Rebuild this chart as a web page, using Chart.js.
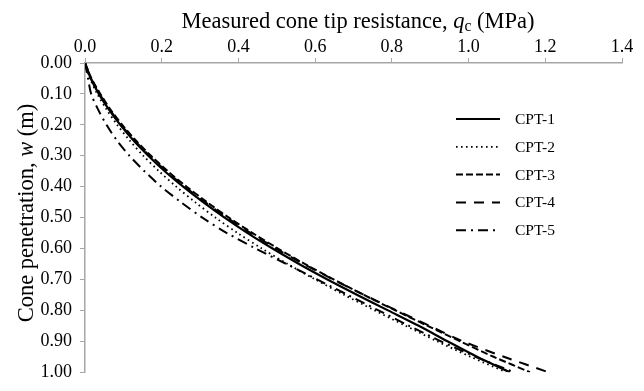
<!DOCTYPE html>
<html>
<head>
<meta charset="utf-8">
<script src="https://cdn.jsdelivr.net/npm/chart.js@4"></script>
<style>
  html, body { margin: 0; padding: 0; background: #fff; }
  #wrap { width: 644px; height: 391px; }
</style>
</head>
<body>
<div id="wrap"><canvas id="chart"></canvas></div>
<script>
// cone penetration w (m), shared by every test
const depth = [0, 0.05, 0.10, 0.15, 0.20, 0.25, 0.30, 0.35, 0.40, 0.45, 0.50,
               0.55, 0.60, 0.65, 0.70, 0.75, 0.80, 0.85, 0.90, 0.95, 1.00];

// measured cone tip resistance qc (MPa)
const qcCPT1 = [0, 0.015, 0.036, 0.062, 0.092, 0.126, 0.165, 0.208, 0.256, 0.308, 0.364,
                0.424, 0.489, 0.558, 0.632, 0.710, 0.790, 0.870, 0.945, 1.022, 1.108];
const qcCPT2 = [0, 0.013, 0.032, 0.056, 0.084, 0.116, 0.152, 0.193, 0.238, 0.287, 0.340,
                0.398, 0.461, 0.528, 0.600, 0.676, 0.755, 0.836, 0.918, 1.005, 1.098];
const qcCPT3 = [0, 0.017, 0.040, 0.066, 0.097, 0.132, 0.172, 0.216, 0.265, 0.318, 0.375,
                0.437, 0.503, 0.573, 0.648, 0.727, 0.809, 0.893, 0.978, 1.065, 1.160];
const qcCPT4 = [0, 0.016, 0.038, 0.064, 0.094, 0.129, 0.168, 0.212, 0.260, 0.313, 0.370,
                0.432, 0.498, 0.570, 0.647, 0.728, 0.812, 0.898, 0.985, 1.092, 1.208];
const qcCPT5 = [0, 0.008, 0.016, 0.034, 0.056, 0.083, 0.116, 0.155, 0.199, 0.250, 0.306,
                0.370, 0.445, 0.525, 0.605, 0.685, 0.765, 0.845, 0.928, 1.018, 1.118];

const seriesNames = ['CPT-1', 'CPT-2', 'CPT-3', 'CPT-4', 'CPT-5'];
const seriesValues = [qcCPT1, qcCPT2, qcCPT3, qcCPT4, qcCPT5];

const xTicks = [0, 0.2, 0.4, 0.6, 0.8, 1.0, 1.2, 1.4];
const yTicks = [0, 0.1, 0.2, 0.3, 0.4, 0.5, 0.6, 0.7, 0.8, 0.9, 1.0];

const dashes = [[], [1.6, 3.4], [7, 3], [10, 8], [10, 5, 2, 5]];
const widths = [2.2, 1.8, 2, 2, 2];

const serif = "'Liberation Serif', 'Times New Roman', serif";
const axisGrey = '#a6a6a6';
Chart.defaults.font.family = serif;
Chart.defaults.color = '#000';

// draws rich text pieces (italic q, subscript c) centred on x
function drawPieces(ctx, pieces, cx, cy, size) {
  let total = 0;
  pieces.forEach(p => {
    const s = p.sub ? size * 0.7 : size;
    ctx.font = (p.italic ? 'italic ' : '') + s + 'px ' + serif;
    p.w = ctx.measureText(p.t).width;
    total += p.w;
  });
  let x = cx - total / 2;
  pieces.forEach(p => {
    const s = p.sub ? size * 0.7 : size;
    ctx.font = (p.italic ? 'italic ' : '') + s + 'px ' + serif;
    ctx.fillText(p.t, x, p.sub ? cy + size * 0.12 : cy);
    x += p.w;
  });
}

const titlesAndLegend = {
  id: 'titlesAndLegend',
  afterDraw(chart) {
    const ctx = chart.ctx;
    ctx.save();
    ctx.fillStyle = '#000';
    ctx.textBaseline = 'alphabetic';
    ctx.textAlign = 'left';

    drawPieces(ctx, [
      { t: 'Measured cone tip resistance, ' },
      { t: 'q', italic: true },
      { t: 'c', sub: true },
      { t: ' (MPa)' }
    ], 358, 28, 22.5);

    ctx.save();
    ctx.translate(33, 213);
    ctx.rotate(-Math.PI / 2);
    drawPieces(ctx, [
      { t: 'Cone penetration, ' },
      { t: 'w', italic: true },
      { t: ' (m)' }
    ], 0, 0, 22.5);
    ctx.restore();

    // legend
    ctx.textBaseline = 'middle';
    chart.data.datasets.forEach((ds, i) => {
      const y = 119 + i * 27.8;
      ctx.save();
      ctx.strokeStyle = '#000';
      ctx.lineWidth = ds.borderWidth;
      ctx.setLineDash(ds.borderDash);
      ctx.beginPath();
      ctx.moveTo(456, y);
      ctx.lineTo(500, y);
      ctx.stroke();
      ctx.restore();
      ctx.font = '15.5px ' + serif;
      ctx.fillText(ds.label, 515, y + 1);
    });
    ctx.restore();
  }
};

new Chart(document.getElementById('chart'), {
  type: 'scatter',
  data: {
    datasets: seriesNames.map((name, i) => ({
      label: name,
      data: depth.map((w, j) => ({ x: seriesValues[i][j], y: w })),
      showLine: true,
      borderColor: '#000',
      backgroundColor: '#000',
      borderWidth: widths[i],
      borderDash: dashes[i],
      pointRadius: 0,
      tension: 0.3,
      fill: false
    }))
  },
  options: {
    responsive: true,
    maintainAspectRatio: false,
    animation: false,
    devicePixelRatio: 1,
    layout: { padding: { left: 0, right: 22, top: 0, bottom: 9 } },
    plugins: {
      legend: { display: false },
      tooltip: { enabled: false }
    },
    scales: {
      x: {
        type: 'linear',
        position: 'top',
        min: 0,
        max: 1.4,
        afterBuildTicks: s => { s.ticks = xTicks.map(v => ({ value: v })); },
        afterFit: s => { s.height = 63; },
        ticks: {
          callback: v => v.toFixed(1),
          font: { size: 18 },
          padding: 0,
          maxRotation: 0
        },
        grid: { drawOnChartArea: false, drawTicks: true, tickLength: 5, color: axisGrey },
        border: { color: axisGrey, width: 1.5 }
      },
      y: {
        type: 'linear',
        reverse: true,
        min: 0,
        max: 1.0,
        afterBuildTicks: s => { s.ticks = yTicks.map(v => ({ value: v })); },
        afterFit: s => { s.width = 85; },
        ticks: {
          callback: v => v.toFixed(2),
          font: { size: 18 },
          padding: 8
        },
        grid: { drawOnChartArea: false, drawTicks: true, tickLength: 5, color: axisGrey },
        border: { color: axisGrey, width: 1.5 }
      }
    }
  },
  plugins: [titlesAndLegend]
});
</script>
</body>
</html>
